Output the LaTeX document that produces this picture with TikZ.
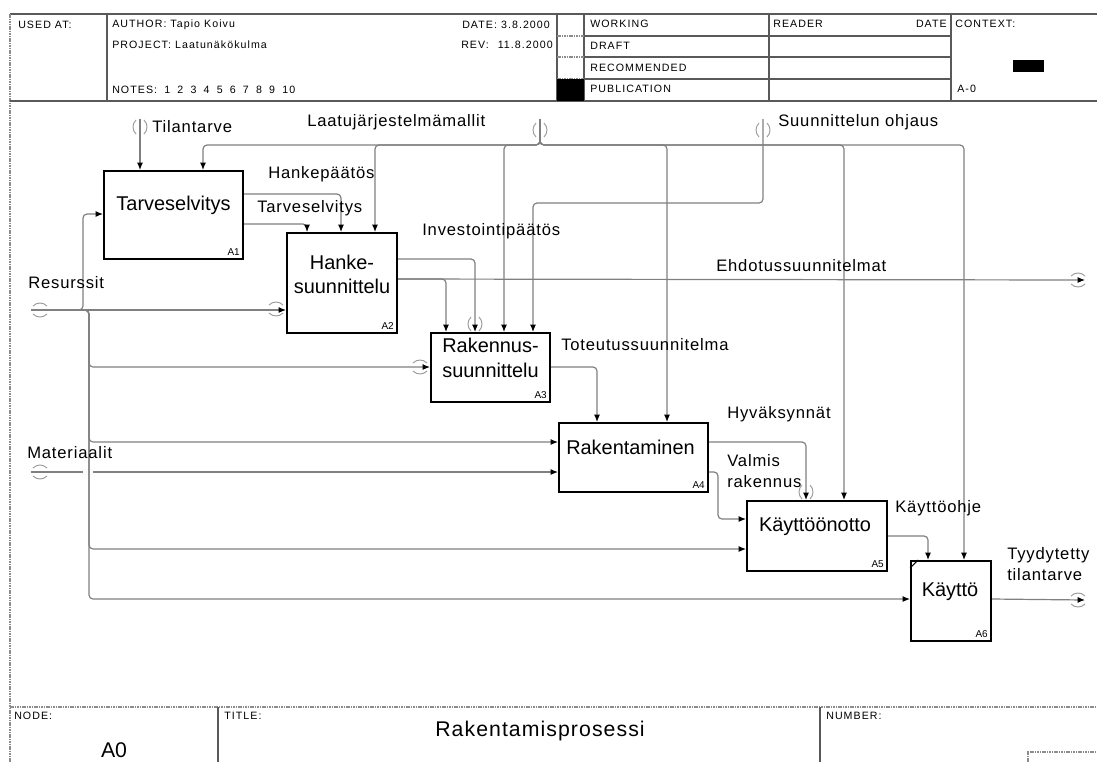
\documentclass[tikz,border=0pt]{standalone}
\usepackage{fontspec}
\setmainfont{Liberation Sans}
\newfontfamily\lblfont[LetterSpace=5]{Liberation Sans}
\newfontfamily\hdrfont[LetterSpace=10]{Liberation Sans}
\usetikzlibrary{arrows.meta,calc}

\tikzset{
  every node/.style={inner sep=0pt},
  proc/.style={draw=black, line width=1.5bp, fill=white, rectangle, inner sep=0pt},
  conn/.style={draw=black!50, line width=0.9bp, rounded corners=3bp},
  arr/.style={conn, -{Latex[length=5.5bp,width=4.5bp,color=black]}},
  tun/.style={draw=black!40, line width=0.7bp},
  lbl/.style={font=\lblfont\fontsize{12.5}{15.5}\selectfont, anchor=west, align=left},
  ptext/.style={font=\fontsize{15}{18.5}\selectfont, align=center},
  pnum/.style={font=\fontsize{7.5}{9}\selectfont, anchor=south east},
  hdr/.style={font=\hdrfont\fontsize{8}{9.5}\selectfont, anchor=west},
  grid/.style={draw=black!65, line width=0.8bp},
  frame/.style={draw=black!45, line width=0.8bp, dash pattern=on 1.2bp off 0.6bp},
}

% tunnel brackets around a vertical (\vtun) or horizontal (\htun) arrow
\newcommand\vtun[1]{%
  \draw[tun] ($(#1)+(-4,-7)$) .. controls ($(#1)+(-8,-3)$) and ($(#1)+(-8,3)$) .. ($(#1)+(-4,7)$);
  \draw[tun] ($(#1)+(4,-7)$) .. controls ($(#1)+(8,-3)$) and ($(#1)+(8,3)$) .. ($(#1)+(4,7)$);}
\newcommand\htun[1]{%
  \draw[tun] ($(#1)+(-7,-4)$) .. controls ($(#1)+(-3,-8)$) and ($(#1)+(3,-8)$) .. ($(#1)+(7,-4)$);
  \draw[tun] ($(#1)+(-7,4)$) .. controls ($(#1)+(-3,8)$) and ($(#1)+(3,8)$) .. ($(#1)+(7,4)$);}
\newcommand\ngap{\hspace{5.4bp}}

\begin{document}
\begin{tikzpicture}[x=0.75bp, y=-0.75bp]
\useasboundingbox (0,0) rectangle (1097,762);

% ---------- sheet frame ----------
\draw[grid] (10,14) -- (1097,14);
\draw[frame] (10,14) -- (10,762);
\draw[grid] (10,101) -- (1097,101);
\draw[frame] (10,707) -- (1097,707);

% ---------- header block ----------
\draw[grid] (107,14) -- (107,101);
\draw[grid] (557,14) -- (557,101);
\draw[grid] (584,14) -- (584,101);
\draw[grid] (769,14) -- (769,101);
\draw[grid] (951,14) -- (951,101);
\foreach \yy in {36,57,79} {
  \draw[frame] (557,\yy) -- (584,\yy);
  \draw[grid] (584,\yy) -- (951,\yy);
}
\fill[black] (557,79) rectangle (584,101);
\fill[black] (1013,60) rectangle (1044,72);

\node[hdr] (usedat) at (18,25) {USED AT:};
\node[hdr] (author) at (112,25) {AUTHOR: Tapio Koivu};
\node[hdr] (project) at (112,45) {PROJECT: Laatunäkökulma};
\node[hdr] (notes) at (112,90) {NOTES:\ngap 1\ngap 2\ngap 3\ngap 4\ngap 5\ngap 6\ngap 7\ngap 8\ngap 9\ngap 10};
\node[hdr] (date) at (462,25) {DATE: 3.8.2000};
\node[hdr] (rev) at (461,45) {REV:};
\node[hdr, anchor=east] (revdate) at (553,45) {11.8.2000};
\node[hdr] (working) at (590,24) {WORKING};
\node[hdr] (draft) at (590,46) {DRAFT};
\node[hdr] (recomm) at (590,68) {RECOMMENDED};
\node[hdr] (public) at (590,89) {PUBLICATION};
\node[hdr] (reader) at (773,24) {READER};
\node[hdr, anchor=east] (rdate) at (947,24) {DATE};
\node[hdr] (context) at (955,24) {CONTEXT:};
\node[hdr] (ctxnode) at (957,89) {A-0};

% ---------- title block ----------
\draw[grid] (218,707) -- (218,762);
\draw[grid] (820,707) -- (820,762);
\draw[frame] (1028,762) -- (1028,752) -- (1097,752);
\node[hdr] (nodelbl) at (14,716) {NODE:};
\node[hdr] (titlelbl) at (224,716) {TITLE:};
\node[hdr] (numlbl) at (826,716) {NUMBER:};
\node[font=\fontsize{16}{19}\selectfont] (nodeval) at (114,750) {A0};
\node[font=\lblfont\fontsize{16}{19}\selectfont] (title) at (540,731) {Rakentamisprosessi};

% ---------- activity boxes ----------
\node[proc, minimum width=104.25bp, minimum height=66bp] (A1) at (173.5,215) {};
\node[proc, minimum width=82.5bp, minimum height=75bp] (A2) at (342,283) {};
\node[proc, minimum width=89.25bp, minimum height=51.75bp] (A3) at (490.5,367.5) {};
\node[proc, minimum width=111.75bp, minimum height=51.75bp] (A4) at (633.5,457.5) {};
\node[proc, minimum width=105bp, minimum height=52.5bp] (A5) at (817,536) {};
\node[proc, minimum width=60bp, minimum height=60bp] (A6) at (951,601) {};

\node[ptext] (A1t) at ($(A1.center)+(0,-10)$) {Tarveselvitys};
\node[ptext] (A2t) at ($(A2.center)+(0,-8.5)$) {Hanke-\\suunnittelu};
\node[ptext] (A3t) at ($(A3.center)+(0,-9.5)$) {Rakennus-\\suunnittelu};
\node[ptext] (A4t) at ($(A4.center)+(-3,-10.5)$) {Rakentaminen};
\node[ptext] (A5t) at ($(A5.center)+(-2,-9)$) {Käyttöönotto};
\node[ptext] (A6t) at ($(A6.center)+(-1,-9)$) {Käyttö};

\node[pnum] (A1n) at ($(A1.south east)+(-4,-4)$) {A1};
\node[pnum] (A2n) at ($(A2.south east)+(-4,-4)$) {A2};
\node[pnum] (A3n) at ($(A3.south east)+(-4,-4)$) {A3};
\node[pnum] (A4n) at ($(A4.south east)+(-4,-4)$) {A4};
\node[pnum] (A5n) at ($(A5.south east)+(-4,-4)$) {A5};
\node[pnum] (A6n) at ($(A6.south east)+(-4,-4)$) {A6};
\draw[black, line width=0.8bp] ($(A6.north west)+(0,8)$) -- ($(A6.north west)+(8,0)$);

% ---------- boundary points and junctions ----------
\coordinate (tTil) at (140,119);
\coordinate (tLaatu) at (540,119);
\coordinate (jLaatu) at (540,145);
\coordinate (tSuun) at (763,119);
\coordinate (jSuun) at (763,203);
\coordinate (tRes) at (31,310);
\coordinate (jRes1) at (83,310);
\coordinate (jRes2) at (89,310);
\coordinate (tMat) at (31,472);
\coordinate (tEhd) at (1085,280);
\coordinate (tTyy) at (1085,600);

% ---------- controls ----------
\draw[arr] (tTil) -- (tTil |- A1.north);
\draw[arr] (tLaatu) -- (jLaatu) -| ($(A1.north west)+(100,0)$);
\draw[arr] (tLaatu) -- (jLaatu) -| ($(A2.north west)+(89,0)$);
\draw[arr] (tLaatu) -- (jLaatu) -| ($(A3.north west)+(74,0)$);
\draw[arr] (tLaatu) -- (jLaatu) -| ($(A4.north west)+(109,0)$);
\draw[arr] (tLaatu) -- (jLaatu) -| ($(A5.north west)+(98,0)$);
\draw[arr] (tLaatu) -- (jLaatu) -| ($(A6.north west)+(54,0)$);
\draw[arr] (tSuun) -- (jSuun) -| ($(A3.north west)+(103,0)$);

% ---------- flows between activities ----------
\draw[arr] ($(A1.north east)+(0,24)$) -| ($(A2.north west)+(55,0)$);
\draw[arr] ($(A1.north east)+(0,54)$) -| ($(A2.north west)+(21,0)$);
\draw[arr] ($(A2.north east)+(0,27)$) -| ($(A3.north west)+(45,0)$);
\draw[arr] ($(A2.north east)+(0,47)$) -- (tEhd);
\draw[arr] ($(A2.north east)+(0,47)$) -| ($(A3.north west)+(16,0)$);
\draw[arr] ($(A3.north east)+(0,35)$) -| ($(A4.north west)+(39,0)$);
\draw[arr] ($(A4.north east)+(0,20)$) -| ($(A5.north west)+(60,0)$);
\coordinate (jVal) at ($(A4.north east)+(9,50)$);
\draw[arr] ($(A4.north east)+(0,50)$) -- (jVal) |- ($(A5.north west)+(0,19)$);
\draw[arr] ($(A5.north east)+(0,36)$) -| ($(A6.north west)+(18,0)$);
\draw[arr] ($(A6.north east)+(0,39)$) -- (tTyy);

% ---------- inputs ----------
\draw[arr] (tMat) -- (tMat -| A4.west);
\fill[white] ($(tMat)+(52,-2.5)$) rectangle ($(tMat)+(62,2.5)$);
\draw[arr] (tRes) -- (tRes -| A2.west);
\draw[arr] (tRes) -- (jRes1) |- ($(A1.north west)+(0,44)$);
\draw[arr] (tRes) -- (jRes2) |- ($(A3.north west)+(0,35)$);
\draw[arr] (tRes) -- (jRes2) |- ($(A4.north west)+(0,20)$);
\draw[arr] (tRes) -- (jRes2) |- ($(A5.north west)+(0,49)$);
\draw[arr] (tRes) -- (jRes2) |- ($(A6.north west)+(0,39)$);

% ---------- tunnels ----------
\vtun{$(tTil)+(0,8)$}
\vtun{$(tLaatu)+(0,11)$}
\vtun{$(tSuun)+(0,11)$}
\htun{$(tRes)+(9,0)$}
\htun{$(tMat)+(9,0)$}
\htun{$(tEhd)+(-7,0)$}
\htun{$(tTyy)+(-7,0)$}
\htun{$(A2.north west)+(-10,77)$}
\htun{$(A3.north west)+(-10,35)$}
\vtun{$(A3.north west)+(45,-8)$}
\vtun{$(A5.north west)+(60,-8)$}

% ---------- arrow labels ----------
\node[lbl] (lTil) at (152,127) {Tilantarve};
\node[lbl] (lLaatu) at (307,122) {Laatujärjestelmämallit};
\node[lbl] (lSuun) at (778,122) {Suunnittelun ohjaus};
\node[lbl] (lHanke) at (268,174) {Hankepäätös};
\node[lbl] (lTarve) at (257,208) {Tarveselvitys};
\node[lbl] (lInv) at (422,231) {Investointipäätös};
\node[lbl] (lEhd) at (716,266) {Ehdotussuunnitelmat};
\node[lbl] (lRes) at (28,283) {Resurssit};
\node[lbl] (lTot) at (561,345) {Toteutussuunnitelma};
\node[lbl] (lHyv) at (727,414) {Hyväksynnät};
\node[lbl] (lMat) at (27,453) {Materiaalit};
\node[lbl] (lVal) at (727,471) {Valmis\\rakennus};
\node[lbl] (lKo) at (895,508) {Käyttöohje};
\node[lbl] (lTyy) at (1007,564) {Tyydytetty\\tilantarve};
\end{tikzpicture}
\end{document}
